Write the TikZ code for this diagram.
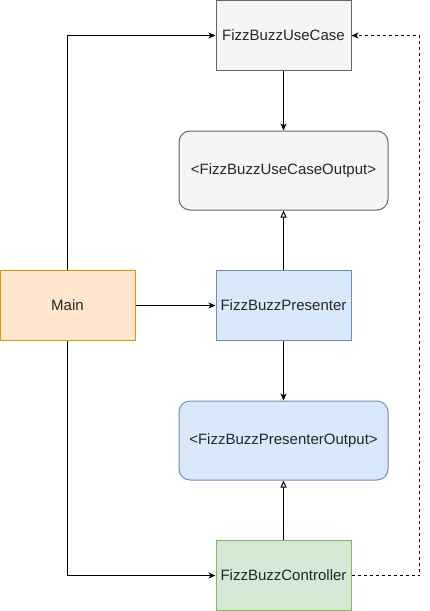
\documentclass[tikz,border=0pt]{standalone}
\usepackage{fontspec}
\setmainfont{Liberation Sans}
\usetikzlibrary{arrows.meta}
\definecolor{grayfill}{HTML}{F5F5F5}
\definecolor{graystroke}{HTML}{666666}
\definecolor{orfill}{HTML}{FFE6CC}
\definecolor{orstroke}{HTML}{D79B00}
\definecolor{bluefill}{HTML}{DAE8FC}
\definecolor{bluestroke}{HTML}{6C8EBF}
\definecolor{grfill}{HTML}{D5E8D4}
\definecolor{grstroke}{HTML}{82B366}
\tikzset{
  box/.style={draw, line width=1pt, minimum width=135pt, minimum height=70pt, inner sep=0pt,
    font=\fontsize{15}{18}\selectfont, text=black!85},
  rbox/.style={box, rounded corners=11pt, minimum width=209pt, minimum height=79pt},
  conn/.style={line width=1pt, -{Stealth[length=7pt,width=6pt,inset=2pt]}},
  impl/.style={line width=1pt, -{Triangle[open,length=7pt,width=6pt]}},
}
\begin{document}
\begin{tikzpicture}[x=1pt,y=-1pt]
\useasboundingbox (0,0) rectangle (429,611);
\node[box, fill=grayfill, draw=graystroke] (uc) at (283.5,35.5) {FizzBuzzUseCase};
\node[rbox, fill=grayfill, draw=graystroke] (uco) at (283.5,170.5) {<FizzBuzzUseCaseOutput>};
\node[box, fill=orfill, draw=orstroke] (main) at (67.5,305.5) {Main};
\node[box, fill=bluefill, draw=bluestroke] (pr) at (283.5,305.5) {FizzBuzzPresenter};
\node[rbox, fill=bluefill, draw=bluestroke] (pro) at (283.5,440.5) {<FizzBuzzPresenterOutput>};
\node[box, fill=grfill, draw=grstroke] (ct) at (283.5,575.5) {FizzBuzzController};
\coordinate (dr) at (419.5,575.5);
\coordinate (ur) at (419.5,35.5);
\draw[conn] (main.north) |- (uc.west);
\draw[conn] (main.east) -- (pr.west);
\draw[conn] (main.south) |- (ct.west);
\draw[conn] (uc.south) -- (uco.north);
\draw[impl] (pr.north) -- (uco.south);
\draw[conn] (pr.south) -- (pro.north);
\draw[impl] (ct.north) -- (pro.south);
\draw[conn, dash pattern=on 3pt off 3pt] (ct.east) -- (dr) -- (ur) -- (uc.east);
\end{tikzpicture}
\end{document}
